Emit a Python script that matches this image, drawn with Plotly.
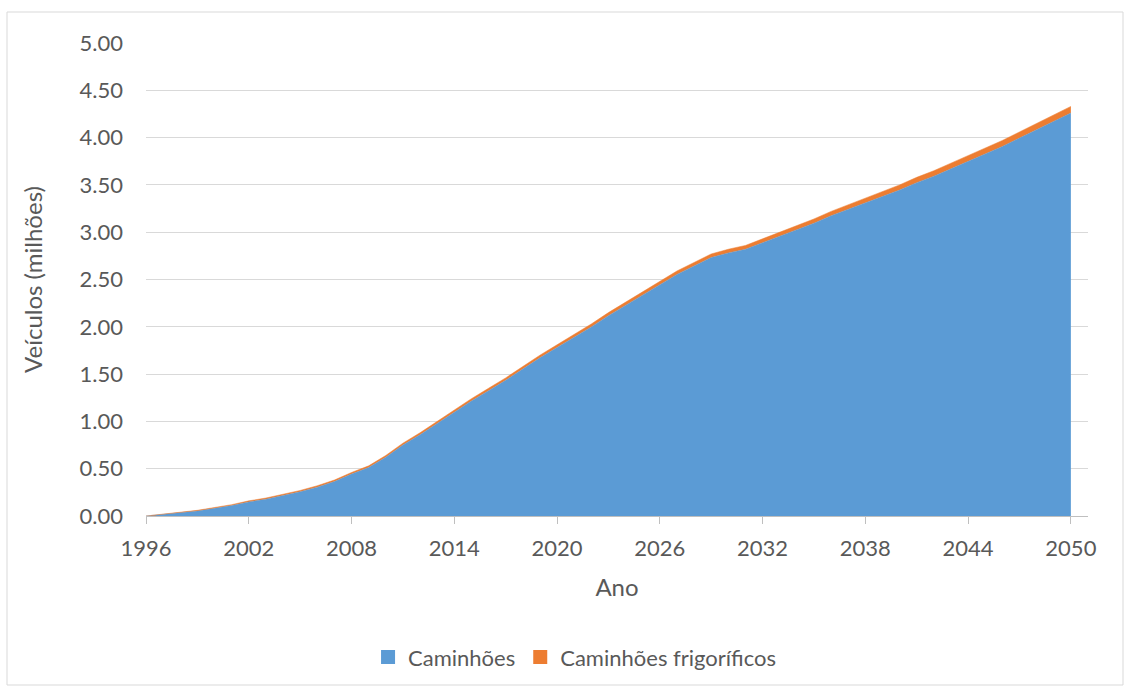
import plotly.graph_objects as go

# Frota de veículos (milhões), 1996-2050
anos = list(range(1996, 2051))

total = [
    0.00, 0.02, 0.04, 0.06, 0.09, 0.12, 0.16, 0.19, 0.23, 0.27,   # 1996-2005
    0.32, 0.38, 0.46, 0.53, 0.64, 0.77, 0.88, 1.00, 1.12, 1.24,   # 2006-2015
    1.35, 1.46, 1.58, 1.70, 1.81, 1.92, 2.03, 2.15, 2.26, 2.37,   # 2016-2025
    2.48, 2.59, 2.68, 2.77, 2.82, 2.86, 2.93, 3.00, 3.07, 3.14,   # 2026-2035
    3.22, 3.29, 3.36, 3.43, 3.50, 3.58, 3.65, 3.73, 3.81, 3.89,   # 2036-2045
    3.97, 4.06, 4.15, 4.24, 4.33,                                 # 2046-2050
]

frigorificos = [
    0.000, 0.003, 0.005, 0.007, 0.009, 0.010, 0.011, 0.012, 0.013, 0.014,
    0.015, 0.016, 0.017, 0.018, 0.019, 0.020, 0.021, 0.022, 0.023, 0.024,
    0.025, 0.026, 0.027, 0.028, 0.029, 0.030, 0.031, 0.032, 0.033, 0.034,
    0.035, 0.036, 0.037, 0.038, 0.039, 0.040, 0.041, 0.042, 0.043, 0.045,
    0.046, 0.048, 0.050, 0.052, 0.054, 0.056, 0.058, 0.060, 0.061, 0.062,
    0.064, 0.065, 0.066, 0.068, 0.070,
]

caminhoes = [round(t - f, 3) for t, f in zip(total, frigorificos)]

series_names = ["Caminhões", "Caminhões frigoríficos"]
series_colors = ["#5b9bd5", "#ed7d31"]

x_ticks = list(range(1996, 2051, 6))
y_ticks = [0, 0.5, 1, 1.5, 2, 2.5, 3, 3.5, 4, 4.5, 5]

FONT = "Lato, 'Open Sans', sans-serif"
TXT = "#595959"

fig = go.Figure()
for name, vals, color in zip(series_names, [caminhoes, frigorificos], series_colors):
    fig.add_trace(go.Scatter(
        x=anos, y=vals, name=name, stackgroup="v",
        mode="lines", line=dict(width=0.5, color=color),
        fillcolor=color, showlegend=False,
    ))
    # square legend swatch
    fig.add_trace(go.Scatter(
        x=[None], y=[None], name=name, mode="markers",
        marker=dict(symbol="square", size=14, color=color),
        showlegend=True,
    ))

fig.update_layout(
    width=1131, height=689,
    margin=dict(l=146, r=43, t=43, b=173),
    paper_bgcolor="white", plot_bgcolor="white",
    font=dict(family=FONT, color=TXT, size=22),
    showlegend=True,
    legend=dict(
        orientation="h", xref="container", yref="container",
        x=0.508, xanchor="center", y=0.046, yanchor="middle",
        font=dict(size=22, color=TXT), itemwidth=30,
        traceorder="normal",
    ),
    xaxis=dict(
        range=[1996, 2051], tickvals=x_ticks, ticktext=[str(v) for v in x_ticks],
        showgrid=False, zeroline=False,
        showline=True, linecolor="#bfbfbf", linewidth=1,
        ticks="outside", ticklen=7, tickcolor="#bfbfbf",
        ticklabelstandoff=6,
        tickfont=dict(size=22, color=TXT),
        title=dict(text="Ano", font=dict(size=24, color=TXT), standoff=18),
    ),
    yaxis=dict(
        range=[0, 5], tickvals=y_ticks, tickformat=".2f",
        showgrid=True, gridcolor="#d9d9d9", gridwidth=1,
        zeroline=False, showline=False, ticks="",
        ticklabelstandoff=22,
        tickfont=dict(size=22, color=TXT),
        title=dict(text="Veículos (milhões)", font=dict(size=24, color=TXT), standoff=30),
    ),
)

# Moldura externa do gráfico
fig.add_shape(
    type="rect", xref="paper", yref="paper",
    x0=-139 / 942, x1=1 + 35 / 942, y0=-169 / 473, y1=1 + 31 / 473,
    line=dict(color="#d9d9d9", width=1), fillcolor="rgba(0,0,0,0)", layer="below",
)

fig.write_html("out.html")
